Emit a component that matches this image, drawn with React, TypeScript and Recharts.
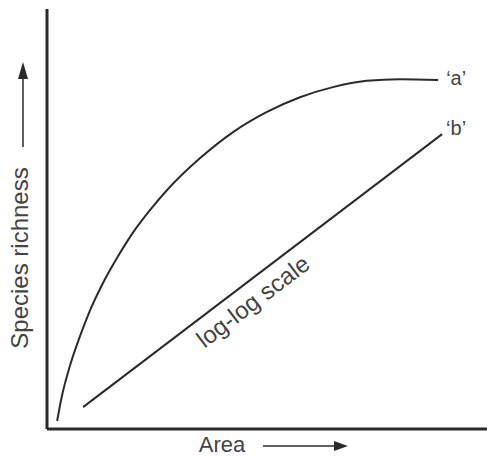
import { ComposedChart, Line, XAxis, YAxis } from "recharts"

// curve 'a' : species richness vs area (arbitrary units, 0-100)
const curveA = [
  { area: 2.3, rich: 1.9 },
  { area: 3.4, rich: 7.9 },
  { area: 5.2, rich: 15.0 },
  { area: 7.5, rich: 22.1 },
  { area: 9.8, rich: 28.3 },
  { area: 12.5, rich: 34.3 },
  { area: 15.9, rich: 40.7 },
  { area: 19.5, rich: 46.7 },
  { area: 23.4, rich: 52.1 },
  { area: 27.3, rich: 56.9 },
  { area: 34.8, rich: 64.5 },
  { area: 42.3, rich: 70.7 },
  { area: 50.0, rich: 75.5 },
  { area: 57.5, rich: 79.0 },
  { area: 65.0, rich: 81.4 },
  { area: 72.7, rich: 82.9 },
  { area: 80.2, rich: 83.3 },
  { area: 88.9, rich: 83.1 },
]

// line 'b' : same on a log-log scale
const lineB = [
  { area: 8.2, rich: 5.2 },
  { area: 89.8, rich: 70.2 },
]

const seriesNames = ["‘a’", "‘b’"]
const xTitle = "Area"
const yTitle = "Species richness"
const lineBNote = "log-log scale"

const FONT = "'Liberation Sans', Arial, sans-serif"
const INK = "#2b2b2b"
const TEXT = "#444"

function EndLabel(name: string, count: number, dx: number, dy: number) {
  return (props: any) => {
    if (props.index !== count - 1) return null
    return (
      <text key={name} x={props.x + dx} y={props.y + dy} fontSize={20} fill={TEXT} fontFamily={FONT}>
        {name}
      </text>
    )
  }
}

function AreaTitle() {
  return (
    <g>
      <text x={222} y={452} textAnchor="middle" fontSize={22} fill={TEXT} fontFamily={FONT}>
        {xTitle}
      </text>
      <line x1={263} y1={446} x2={336} y2={446} stroke={INK} strokeWidth={1.5} />
      <polygon points="348,446 334,441 334,451" fill={INK} />
    </g>
  )
}

function RichTitle() {
  return (
    <g>
      <text
        x={28} y={258} textAnchor="middle" fontSize={24} fill={TEXT} fontFamily={FONT}
        transform="rotate(-90 28 258)"
      >
        {yTitle}
      </text>
      <line x1={23} y1={147} x2={23} y2={76} stroke={INK} strokeWidth={1.5} />
      <polygon points="23,62 18,79 28,79" fill={INK} />
    </g>
  )
}

function NoteLabel() {
  return (
    <text
      x={258} y={308} textAnchor="middle" fontSize={24} fill={TEXT} fontFamily={FONT}
      transform="rotate(-37.3 258 308)"
    >
      {lineBNote}
    </text>
  )
}

export default function App() {
  return (
    <div style={{ position: "absolute", left: 0, top: 0, background: "#fff" }}>
      <ComposedChart width={489} height={457} margin={{ top: 9, right: 2, left: 46, bottom: 27 }}>
        <XAxis
          type="number" dataKey="area" domain={[0, 100]} height={1} tick={false}
          axisLine={{ stroke: INK, strokeWidth: 3 }} tickLine={false} allowDataOverflow
          label={{ content: AreaTitle }}
        />
        <YAxis
          type="number" dataKey="rich" domain={[0, 100]} width={1} tick={false}
          axisLine={{ stroke: INK, strokeWidth: 3 }} tickLine={false} allowDataOverflow
          label={{ content: RichTitle }}
        />
        <Line
          data={curveA} dataKey="rich" type="monotone" stroke={INK} strokeWidth={2}
          dot={false} isAnimationActive={false} label={EndLabel(seriesNames[0], curveA.length, 8, 5)}
        />
        <Line
          data={lineB} dataKey="rich" type="linear" stroke={INK} strokeWidth={2}
          dot={false} isAnimationActive={false} label={EndLabel(seriesNames[1], lineB.length, 4, 1)}
        />
        <Line
          data={lineB} dataKey="rich" stroke="none" dot={false} isAnimationActive={false}
          label={(p: any) => (p.index === 0 ? <NoteLabel key="note" /> : null)}
        />
      </ComposedChart>
    </div>
  )
}
